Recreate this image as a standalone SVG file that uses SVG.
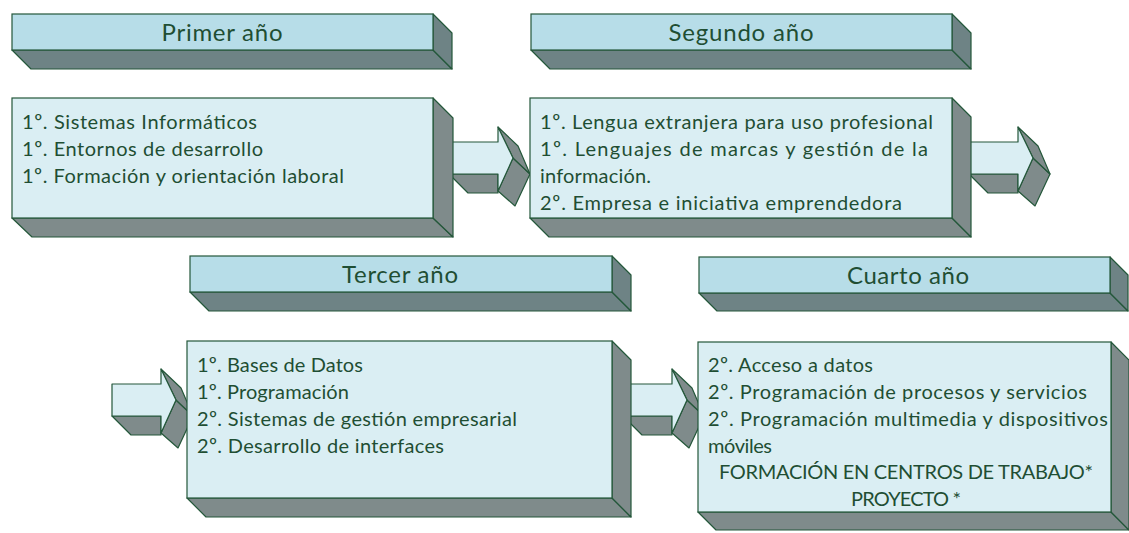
<svg xmlns="http://www.w3.org/2000/svg" xmlns:xlink="http://www.w3.org/1999/xlink" width="1129" height="533" viewBox="0 0 1129 533">
<style>
.hf{fill:#b7dde8;stroke:#24573a;stroke-width:1.2}
.hs{fill:#6e8385;stroke:#24573a;stroke-width:1.2;stroke-linejoin:round}
.bf{fill:#daeef3;stroke:#24573a;stroke-width:1.2}
.bs{fill:#7f8b8b;stroke:#24573a;stroke-width:1.2;stroke-linejoin:round}
.af{fill:#daeef3;stroke:#24573a;stroke-width:1.2;stroke-linejoin:round}
.as{fill:#7f8b8b;stroke:#24573a;stroke-width:1.2;stroke-linejoin:round}
.ht{font-family:Lato,"Open Sans",sans-serif;font-size:24px;fill:#1f4e33;text-anchor:middle}
.t{font-family:Lato,"Open Sans",sans-serif;font-size:20px;fill:#1f4e33}
.c{text-anchor:middle}
</style>
<defs>
<g id="arrow">
<polygon class="as" points="449,174 468,193 498,193 498,174"/>
<polygon class="as" points="513,158 530,174 515,206 498,191"/>
<polygon class="as" points="498,127 518,146 530,174 513,158"/>
<polygon class="af" points="449,142 498,142 498,127 513,158 498,191 498,174 449,174"/>
</g>
</defs>
<g id="connectors">
<use xlink:href="#arrow" href="#arrow"/>
<use xlink:href="#arrow" href="#arrow" x="520" y="0"/>
<use xlink:href="#arrow" href="#arrow" x="-337" y="242"/>
<use xlink:href="#arrow" href="#arrow" x="174" y="242"/>
</g>
<g id="header1">
<polygon class="hs" points="12,50 433,50 452,69 31,69"/>
<polygon class="hs" points="433,14 452,33 452,69 433,50"/>
<rect class="hf" x="12" y="14" width="421" height="36"/>
<text class="ht" x="222" y="41" textLength="121" lengthAdjust="spacing">Primer año</text>
</g>
<g id="header2">
<polygon class="hs" points="531,50 952,50 971,69 550,69"/>
<polygon class="hs" points="952,14 971,33 971,69 952,50"/>
<rect class="hf" x="531" y="14" width="421" height="36"/>
<text class="ht" x="741" y="41" textLength="145" lengthAdjust="spacing">Segundo año</text>
</g>
<g id="header3">
<polygon class="hs" points="190,292 612,292 631,311 209,311"/>
<polygon class="hs" points="612,256 631,275 631,311 612,292"/>
<rect class="hf" x="190" y="256" width="422" height="36"/>
<text class="ht" x="400" y="283" textLength="116" lengthAdjust="spacing">Tercer año</text>
</g>
<g id="header4">
<polygon class="hs" points="699,293 1110,293 1128,311 717,311"/>
<polygon class="hs" points="1110,257 1128,275 1128,311 1110,293"/>
<rect class="hf" x="699" y="257" width="411" height="36"/>
<text class="ht" x="908" y="284" textLength="122" lengthAdjust="spacing">Cuarto año</text>
</g>
<g id="box1">
<polygon class="bs" points="12,218 433,218 453,237 32,237"/>
<polygon class="bs" points="433,98 453,118 453,237 433,218"/>
<rect class="bf" x="12" y="98" width="421" height="120"/>
<text class="t" x="22" y="129" textLength="235" lengthAdjust="spacing">1º. Sistemas Informáticos</text>
<text class="t" x="22" y="156" textLength="241" lengthAdjust="spacing">1º. Entornos de desarrollo</text>
<text class="t" x="22" y="183" textLength="322" lengthAdjust="spacing">1º. Formación y orientación laboral</text>
</g>
<g id="box2">
<polygon class="bs" points="530,218 952,218 971,237 549,237"/>
<polygon class="bs" points="952,98 971,117 971,237 952,218"/>
<rect class="bf" x="530" y="98" width="422" height="120"/>
<text class="t" x="540" y="129" textLength="393" lengthAdjust="spacing">1º. Lengua extranjera para uso profesional</text>
<text class="t" x="540" y="156" textLength="388" lengthAdjust="spacing">1º. Lenguajes de marcas y gestión de la</text>
<text class="t" x="540" y="183" textLength="111" lengthAdjust="spacing">información.</text>
<text class="t" x="540" y="210" textLength="362" lengthAdjust="spacing">2º. Empresa e iniciativa emprendedora</text>
</g>
<g id="box3">
<polygon class="bs" points="187,498 612,498 631,517 206,517"/>
<polygon class="bs" points="612,341 631,360 631,517 612,498"/>
<rect class="bf" x="187" y="341" width="425" height="157"/>
<text class="t" x="197" y="372" textLength="166" lengthAdjust="spacing">1º. Bases de Datos</text>
<text class="t" x="197" y="399" textLength="152" lengthAdjust="spacing">1º. Programación</text>
<text class="t" x="197" y="426" textLength="320" lengthAdjust="spacing">2º. Sistemas de gestión empresarial</text>
<text class="t" x="197" y="453" textLength="247" lengthAdjust="spacing">2º. Desarrollo de interfaces</text>
</g>
<g id="box4">
<polygon class="bs" points="698,512 1111,512 1129,530 716,530"/>
<polygon class="bs" points="1111,342 1129,360 1129,530 1111,512"/>
<rect class="bf" x="698" y="342" width="413" height="170"/>
<text class="t" x="708" y="372" textLength="165" lengthAdjust="spacing">2º. Acceso a datos</text>
<text class="t" x="708" y="399" textLength="379" lengthAdjust="spacing">2º. Programación de procesos y servicios</text>
<text class="t" x="708" y="426" textLength="400" lengthAdjust="spacing">2º. Programación multimedia y dispositivos</text>
<text class="t" x="708" y="453" textLength="64" lengthAdjust="spacing">móviles</text>
<text class="t c" x="906" y="479" textLength="374" lengthAdjust="spacing">FORMACIÓN EN CENTROS DE TRABAJO*</text>
<text class="t c" x="906" y="506" textLength="110" lengthAdjust="spacing">PROYECTO *</text>
</g>
</svg>
